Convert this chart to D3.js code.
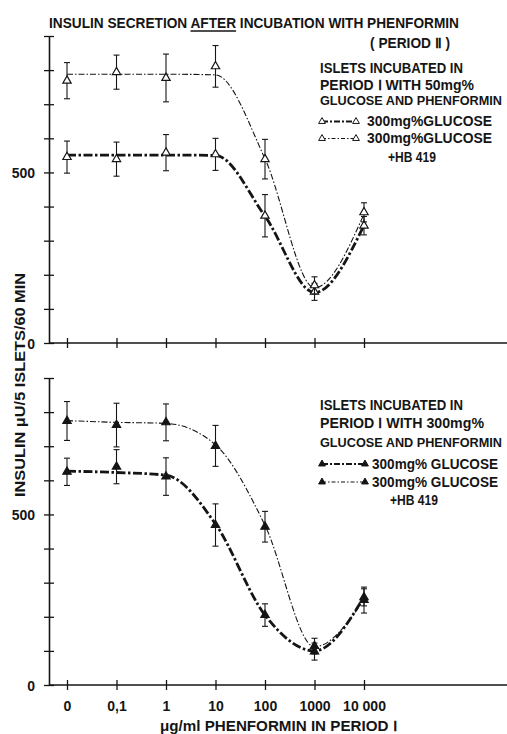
<!DOCTYPE html>
<html><head><meta charset="utf-8">
<script src="https://cdn.jsdelivr.net/npm/d3@7"></script>
<style>
body{margin:0;background:#fff}
svg{display:block}
text{font-family:"Liberation Sans",Arial,sans-serif;font-weight:bold;fill:#151515}
</style>
</head><body><svg id="c" width="507" height="734"></svg>
<script>
// ---- data ----
const doseLabels = ["0", "0,1", "1", "10", "100", "1000", "10 000"];
const yTickValues = [0, 100, 200, 300, 400, 500, 600, 700, 800, 900];
const yLabelled = [0, 500];

// Upper panel: islets incubated in period I with 50mg% glucose and phenformin (open triangles)
const topGlucose      = [545, 539, 558, 553, 373, 150, 344];
const topGlucoseErr   = [47, 50, 53, 47, 62, 25, 27];
const topGlucoseFit   = [551, 551, 551, 550, 372, 148, 345];
const topHB           = [769, 794, 777, 811, 539, 169, 383];
const topHBErr        = [53, 50, 70, 61, 58, 25, 28];
const topHBFit        = [788, 788, 788, 786, 540, 162, 378];

// Lower panel: islets incubated in period I with 300mg% glucose and phenformin (filled triangles)
const botGlucose      = [625, 640, 611, 469, 205, 98, 257];
const botGlucoseErr   = [40, 50, 55, 62, 33, 25, 25];
const botGlucoseFit   = [627, 623, 615, 472, 205, 100, 258];
const botHB           = [774, 762, 770, 701, 464, 114, 249];
const botHBErr        = [57, 64, 54, 60, 45, 23, 38];
const botHBFit        = [775, 770, 767, 704, 468, 112, 250];

const titleText = "INSULIN SECRETION AFTER INCUBATION WITH PHENFORMIN";
const yTitle = "INSULIN \u03bcU/5  ISLETS/60 MIN";
const xTitle = "\u03bcg/ml PHENFORMIN IN PERIOD \u2160";

// ---- drawing ----
const svg = d3.select("#c");
const ink = "#151515";
const x = d3.scaleLinear().domain([0, 6]).range([67, 364]);
const axisX0 = 49, axisXEnd = 507;

const styles = {
  glucose: {w: 2.8, dash: "9,2.5,2.5,2.5"},
  hb:      {w: 1.1, dash: "6,2,1.5,2"}
};

function panel(y0, yTop, series, filled, showXLabels) {
  const y = d3.scaleLinear().domain([0, 900]).range([y0, yTop]);
  const g = svg.append("g");

  const ya = g.append("g").attr("transform", `translate(${axisX0},0)`)
    .call(d3.axisLeft(y).tickValues(yTickValues).tickSizeOuter(0)
      .tickFormat(d => yLabelled.includes(d) ? d : ""));
  ya.select(".domain").attr("stroke", ink).attr("stroke-width", 1.6);
  ya.selectAll(".tick line").attr("x1", -5).attr("x2", 5).attr("stroke", ink).attr("stroke-width", 1.3);
  ya.selectAll(".tick text").attr("x", -14).attr("dy", "0.36em")
    .style("font-size", "14px").style("font-family", "Liberation Sans, Arial, sans-serif")
    .style("font-weight", "bold").attr("fill", ink);

  const xa = g.append("g").attr("transform", `translate(0,${y0})`)
    .call(d3.axisBottom(x).tickValues(d3.range(7)).tickSizeOuter(0)
      .tickFormat(i => showXLabels ? doseLabels[i] : ""));
  xa.select(".domain").remove();
  xa.insert("line", ":first-child").attr("x1", axisX0).attr("x2", axisXEnd)
    .attr("stroke", ink).attr("stroke-width", 1.6);
  xa.selectAll(".tick line").attr("y1", -5).attr("y2", 5).attr("stroke", ink).attr("stroke-width", 1.3);
  xa.selectAll(".tick text").attr("y", 26).attr("dy", 0)
    .style("font-size", "14px").style("font-family", "Liberation Sans, Arial, sans-serif")
    .style("font-weight", "bold").attr("fill", ink);

  const line = d3.line().x((d, i) => x(i)).y(d => y(d)).curve(d3.curveMonotoneX);
  const sym = d3.symbol().type(d3.symbolTriangle).size(30);

  series.forEach(s => {
    g.append("path").attr("d", line(s.fit)).attr("fill", "none")
      .attr("stroke", ink).attr("stroke-width", styles[s.style].w)
      .attr("stroke-dasharray", styles[s.style].dash);
  });
  series.forEach(s => {
    const eb = g.append("g").attr("stroke", ink).attr("stroke-width", 1.1);
    s.vals.forEach((v, i) => {
      const cx = x(i), hi = y(v + s.err[i]), lo = y(v - s.err[i]);
      eb.append("line").attr("x1", cx).attr("x2", cx).attr("y1", hi).attr("y2", lo);
      eb.append("line").attr("x1", cx - 3).attr("x2", cx + 3).attr("y1", hi).attr("y2", hi);
      eb.append("line").attr("x1", cx - 3).attr("x2", cx + 3).attr("y1", lo).attr("y2", lo);
    });
    g.selectAll(null).data(s.vals).join("path")
      .attr("d", sym)
      .attr("transform", (d, i) => `translate(${x(i)},${y(d)})`)
      .attr("fill", filled ? ink : "#fff").attr("stroke", ink).attr("stroke-width", 1.2);
  });
}

panel(343, 36, [
  {vals: topGlucose, err: topGlucoseErr, fit: topGlucoseFit, style: "glucose"},
  {vals: topHB, err: topHBErr, fit: topHBFit, style: "hb"}
], false, false);

panel(685, 378, [
  {vals: botGlucose, err: botGlucoseErr, fit: botGlucoseFit, style: "glucose"},
  {vals: botHB, err: botHBErr, fit: botHBFit, style: "hb"}
], true, true);

// ---- text ----
function txt(s, xx, yy, len, size, anchor) {
  const t = svg.append("text").attr("x", xx).attr("y", yy)
    .style("font-size", (size || 14) + "px").attr("text-anchor", anchor || "start").text(s);
  if (len) t.attr("textLength", len).attr("lengthAdjust", "spacingAndGlyphs");
  return t;
}

// title, with "AFTER" underlined by a drawn rule
const tt = txt(titleText, 49, 28, 410, 15);
const k0 = titleText.indexOf("AFTER");
const node = tt.node();
const ux1 = node.getStartPositionOfChar(k0).x;
const ux2 = node.getEndPositionOfChar(k0 + 4).x;
svg.append("line").attr("x1", ux1).attr("x2", ux2).attr("y1", 31).attr("y2", 31)
  .attr("stroke", ink).attr("stroke-width", 1.3);
txt("( PERIOD \u2161 )", 370, 48, 80, 14);

// legends
function legend(lines, y1, sampleY, itemX, itemW, hbX, hbY, filled, item) {
  lines.forEach((l, i) => txt(l.t, 320, y1[i], l.w, l.s || 14));
  const sym = d3.symbol().type(d3.symbolTriangle).size(20);
  ["glucose", "hb"].forEach((k, i) => {
    const yy = sampleY[i];
    svg.append("line").attr("x1", 322).attr("x2", item.x2).attr("y1", yy).attr("y2", yy)
      .attr("stroke", ink).attr("stroke-width", k === "glucose" ? 2.2 : 1.1)
      .attr("stroke-dasharray", k === "glucose" ? "6,2,2,2" : "4,2,1.5,2");
    [322, item.x2].forEach(px => svg.append("path").attr("d", sym)
      .attr("transform", `translate(${px},${yy})`)
      .attr("fill", filled ? ink : "#fff").attr("stroke", ink).attr("stroke-width", 1));
    txt(item.label, itemX, yy + 4.5, itemW, 14);
  });
  txt("+HB 419", hbX, hbY, 48, 14);
}

legend([
  {t: "ISLETS INCUBATED IN", w: 143},
  {t: "PERIOD \u2160 WITH 50mg%", w: 154},
  {t: "GLUCOSE  AND PHENFORMIN", w: 182, s: 12.4}
], [73, 90, 105], [121.5, 138.5], 367, 125, 388, 162, false, {x2: 356, label: "300mg%GLUCOSE"});

legend([
  {t: "ISLETS INCUBATED IN", w: 143},
  {t: "PERIOD \u2160 WITH 300mg%", w: 164},
  {t: "GLUCOSE  AND PHENFORMIN", w: 182, s: 12.4}
], [410, 428, 447], [464, 482], 372, 126, 390, 505, true, {x2: 365, label: "300mg% GLUCOSE"});

// axis titles
svg.append("text").attr("transform", "translate(25,385) rotate(-90)")
  .attr("text-anchor", "middle").style("font-size", "14px")
  .attr("textLength", 224).attr("lengthAdjust", "spacingAndGlyphs").text(yTitle);
txt(xTitle, 160, 731, 237, 14);
</script>
</body></html>
